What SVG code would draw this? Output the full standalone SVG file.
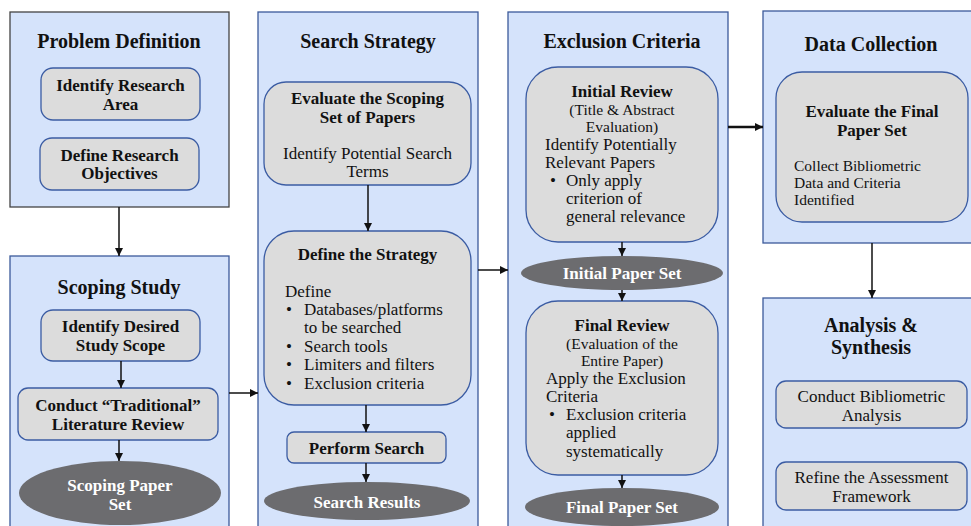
<svg xmlns="http://www.w3.org/2000/svg" width="971" height="526" viewBox="0 0 971 526">
<style>
.panel{fill:#d5e3fb;stroke:#3c5a9a;stroke-width:1.3}
.panel.dark{stroke:#444}
.box{fill:#dcdcdc;stroke:#3b5ca3;stroke-width:1.3}
.oval{fill:#6c6c6f}
text{font-family:"Liberation Serif","Times New Roman",serif;fill:#111}
.t{font-size:20px;font-weight:bold;text-anchor:middle}
.b{font-size:17px;font-weight:bold;text-anchor:middle}
.r{font-size:17px}
.rc{font-size:17px;text-anchor:middle}
.s{font-size:15.5px;text-anchor:middle}
.d{font-size:15.5px}
.w{font-size:17px;font-weight:bold;text-anchor:middle;fill:#fff}
.c line{stroke:#111;stroke-width:1.5;marker-end:url(#ah)}
</style>
<defs>
<marker id="ah" viewBox="0 0 10 10" refX="10" refY="5" markerWidth="8" markerHeight="8" orient="auto" markerUnits="userSpaceOnUse">
<path d="M0,0 L10,5 L0,10 z" fill="#111"/>
</marker>
</defs>
<rect width="971" height="526" fill="#fff"/>

<g id="problem-definition">
<rect class="panel dark" x="10" y="12" width="219" height="195"/>
<text class="t" x="119" y="48">Problem Definition</text>
<g id="identify-research-area">
<rect class="box" x="41" y="68" width="159" height="52" rx="12"/>
<text class="b" x="120.5" y="91">Identify Research</text>
<text class="b" x="120.5" y="110">Area</text>
</g>
<g id="define-research-objectives">
<rect class="box" x="40" y="138" width="159" height="52" rx="12"/>
<text class="b" x="119.5" y="161">Define Research</text>
<text class="b" x="119.5" y="179">Objectives</text>
</g>
</g>

<g id="scoping-study">
<rect class="panel" x="10" y="256" width="219" height="290"/>
<text class="t" x="119" y="294">Scoping Study</text>
<g id="identify-desired-scope">
<rect class="box" x="41" y="310" width="159" height="51" rx="12"/>
<text class="b" x="120.5" y="332">Identify Desired</text>
<text class="b" x="120.5" y="351">Study Scope</text>
</g>
<g id="conduct-review">
<rect class="box" x="18" y="388" width="200" height="52" rx="10"/>
<text class="b" x="118" y="411">Conduct “Traditional”</text>
<text class="b" x="118" y="430">Literature Review</text>
</g>
<g id="scoping-paper-set">
<ellipse class="oval" cx="120" cy="493" rx="101" ry="32"/>
<text class="w" x="120" y="491">Scoping Paper</text>
<text class="w" x="120" y="510">Set</text>
</g>
</g>

<g id="search-strategy">
<rect class="panel" x="258" y="12" width="220" height="534"/>
<text class="t" x="368" y="48">Search Strategy</text>
<g id="evaluate-scoping-set">
<rect class="box" x="264" y="82" width="207" height="103" rx="22"/>
<text class="b" x="367.5" y="104">Evaluate the Scoping</text>
<text class="b" x="367.5" y="123">Set of Papers</text>
<text class="rc" x="367.5" y="159">Identify Potential Search</text>
<text class="rc" x="367.5" y="177">Terms</text>
</g>
<g id="define-strategy">
<rect class="box" x="264" y="231" width="207" height="174" rx="30"/>
<text class="b" x="367.5" y="260">Define the Strategy</text>
<text class="r" x="285" y="297">Define</text>
<text class="r" x="286" y="315">•</text>
<text class="r" x="304" y="315">Databases/platforms</text>
<text class="r" x="304" y="333">to be searched</text>
<text class="r" x="286" y="352">•</text>
<text class="r" x="304" y="352">Search tools</text>
<text class="r" x="286" y="370">•</text>
<text class="r" x="304" y="370">Limiters and filters</text>
<text class="r" x="286" y="389">•</text>
<text class="r" x="304" y="389">Exclusion criteria</text>
</g>
<g id="perform-search">
<rect class="box" x="287" y="432" width="159" height="31" rx="7"/>
<text class="b" x="366.5" y="454">Perform Search</text>
</g>
<g id="search-results">
<ellipse class="oval" cx="367" cy="501" rx="103" ry="19"/>
<text class="w" x="367" y="508">Search Results</text>
</g>
</g>

<g id="exclusion-criteria">
<rect class="panel" x="508" y="12" width="220" height="534"/>
<text class="t" x="622" y="48">Exclusion Criteria</text>
<g id="initial-review">
<rect class="box" x="526" y="67" width="192" height="175" rx="32"/>
<text class="b" x="622" y="97">Initial Review</text>
<text class="s" x="622" y="115">(Title &amp; Abstract</text>
<text class="s" x="622" y="132">Evaluation)</text>
<text class="r" x="545" y="150">Identify Potentially</text>
<text class="r" x="545" y="168">Relevant Papers</text>
<text class="r" x="550" y="186">•</text>
<text class="r" x="566" y="186">Only apply</text>
<text class="r" x="566" y="204">criterion of</text>
<text class="r" x="566" y="222">general relevance</text>
</g>
<g id="initial-paper-set">
<ellipse class="oval" cx="622" cy="273" rx="101" ry="17"/>
<text class="w" x="622" y="279">Initial Paper Set</text>
</g>
<g id="final-review">
<rect class="box" x="526" y="301" width="192" height="174" rx="32"/>
<text class="b" x="622" y="331">Final Review</text>
<text class="s" x="622" y="349">(Evaluation of the</text>
<text class="s" x="622" y="366">Entire Paper)</text>
<text class="r" x="546" y="384">Apply the Exclusion</text>
<text class="r" x="546" y="402">Criteria</text>
<text class="r" x="549" y="420">•</text>
<text class="r" x="566" y="420">Exclusion criteria</text>
<text class="r" x="566" y="438">applied</text>
<text class="r" x="566" y="457">systematically</text>
</g>
<g id="final-paper-set">
<ellipse class="oval" cx="622" cy="507" rx="97" ry="19"/>
<text class="w" x="622" y="513">Final Paper Set</text>
</g>
</g>

<g id="data-collection">
<rect class="panel" x="763" y="11" width="230" height="232"/>
<text class="t" x="871" y="51">Data Collection</text>
<g id="evaluate-final-set">
<rect class="box" x="776" y="72" width="192" height="150" rx="26"/>
<text class="b" x="872" y="117">Evaluate the Final</text>
<text class="b" x="872" y="136">Paper Set</text>
<text class="d" x="794" y="171">Collect Bibliometric</text>
<text class="d" x="794" y="188">Data and Criteria</text>
<text class="d" x="794" y="205">Identified</text>
</g>
</g>

<g id="analysis-synthesis">
<rect class="panel" x="763" y="298" width="230" height="248"/>
<text class="t" x="871" y="332">Analysis &amp;</text>
<text class="t" x="871" y="354">Synthesis</text>
<g id="conduct-bibliometric">
<rect class="box" x="776" y="381" width="191" height="47" rx="10"/>
<text class="rc" x="871.5" y="402">Conduct Bibliometric</text>
<text class="rc" x="871.5" y="421">Analysis</text>
</g>
<g id="refine-framework">
<rect class="box" x="776" y="462" width="191" height="48" rx="10"/>
<text class="rc" x="871.5" y="483">Refine the Assessment</text>
<text class="rc" x="871.5" y="502">Framework</text>
</g>
</g>

<g id="connectors" class="c">
<line x1="119" y1="207" x2="119" y2="256"/>
<line x1="121" y1="361" x2="121" y2="388"/>
<line x1="119" y1="440" x2="119" y2="461"/>
<line x1="229" y1="393" x2="258" y2="393"/>
<line x1="368" y1="185" x2="368" y2="231"/>
<line x1="366" y1="405" x2="366" y2="432"/>
<line x1="366" y1="463" x2="366" y2="482"/>
<line x1="478" y1="270" x2="508" y2="270"/>
<line x1="622" y1="242" x2="622" y2="256"/>
<line x1="622" y1="290" x2="622" y2="301"/>
<line x1="622" y1="475" x2="622" y2="488"/>
<line x1="728" y1="127" x2="763" y2="127" style="stroke-width:2.5"/>
<line x1="872" y1="243" x2="872" y2="298"/>
</g>
</svg>
